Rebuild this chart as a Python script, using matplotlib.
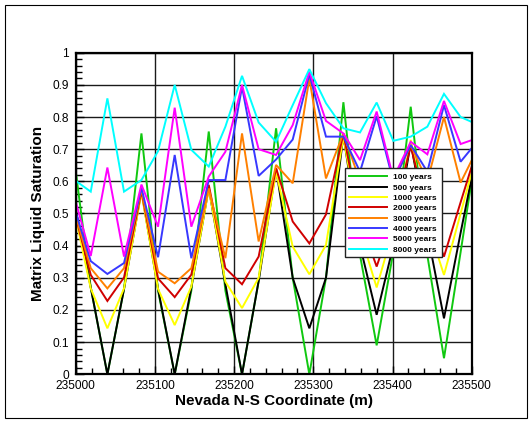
import matplotlib
matplotlib.use("Agg")
import matplotlib.pyplot as plt
from matplotlib.ticker import MultipleLocator
from matplotlib.patches import Rectangle

plt.rcParams['font.family'] = ['Liberation Sans', 'DejaVu Sans']

# Nodal N-S coordinates (m)
x = [234998, 235019, 235040, 235061, 235083, 235104, 235125, 235146, 235168,
     235189, 235210, 235231, 235253, 235274, 235295, 235316, 235338, 235359,
     235380, 235401, 235423, 235444, 235465, 235486, 235508]

labels = ["100 years", "500 years", "1000 years", "2000 years",
          "3000 years", "4000 years", "5000 years", "8000 years"]

s100 = [0.67, 0.27, 0.0, 0.265, 0.749, 0.26, 0.0, 0.26, 0.755, 0.26, 0.0, 0.29, 0.765,
        0.30, 0.0, 0.30, 0.846, 0.37, 0.09, 0.38, 0.832, 0.37, 0.05, 0.38, 0.73]
s500 = [0.54, 0.27, 0.0, 0.265, 0.57, 0.265, 0.0, 0.27, 0.58, 0.28, 0.0, 0.29, 0.64,
        0.30, 0.143, 0.30, 0.744, 0.40, 0.185, 0.40, 0.72, 0.44, 0.174, 0.44, 0.71]
s1000 = [0.51, 0.267, 0.143, 0.267, 0.565, 0.265, 0.153, 0.273, 0.578, 0.288, 0.206, 0.30, 0.63,
         0.397, 0.311, 0.402, 0.739, 0.44, 0.27, 0.45, 0.729, 0.47, 0.309, 0.50, 0.70]
s2000 = [0.51, 0.309, 0.228, 0.301, 0.57, 0.298, 0.24, 0.31, 0.589, 0.33, 0.28, 0.366, 0.641,
         0.475, 0.407, 0.497, 0.749, 0.48, 0.335, 0.49, 0.71, 0.50, 0.366, 0.535, 0.71]
s3000 = [0.51, 0.33, 0.267, 0.33, 0.575, 0.319, 0.283, 0.33, 0.578, 0.361, 0.749, 0.413, 0.651,
         0.594, 0.92, 0.609, 0.749, 0.60, 0.55, 0.60, 0.713, 0.60, 0.80, 0.596, 0.705]
s4000 = [0.52, 0.352, 0.312, 0.346, 0.58, 0.364, 0.682, 0.361, 0.604, 0.604, 0.894, 0.617, 0.668,
         0.73, 0.933, 0.739, 0.739, 0.63, 0.802, 0.60, 0.713, 0.63, 0.837, 0.661, 0.727]
s5000 = [0.555, 0.368, 0.643, 0.366, 0.59, 0.459, 0.829, 0.459, 0.615, 0.692, 0.90, 0.70, 0.682,
         0.775, 0.941, 0.788, 0.749, 0.666, 0.817, 0.61, 0.723, 0.684, 0.85, 0.716, 0.735]
s8000 = [0.605, 0.568, 0.858, 0.568, 0.604, 0.694, 0.90, 0.698, 0.646, 0.77, 0.928, 0.783, 0.723,
         0.837, 0.949, 0.843, 0.765, 0.752, 0.845, 0.726, 0.739, 0.77, 0.872, 0.80, 0.776]

series = [s100, s500, s1000, s2000, s3000, s4000, s5000, s8000]
colors = ['#10c810', '#000000', '#ffff00', '#d00000', '#ff8000', '#3838ff', '#ff00ff', '#00ffff']

xticks = [235000, 235100, 235200, 235300, 235400, 235500]
yticks = [0, 0.1, 0.2, 0.3, 0.4, 0.5, 0.6, 0.7, 0.8, 0.9, 1.0]
yticklabels = ["0", "0.1", "0.2", "0.3", "0.4", "0.5", "0.6", "0.7", "0.8", "0.9", "1"]

W, H = 532, 423
fig = plt.figure(figsize=(W / 100, H / 100), dpi=100)
ax = fig.add_axes([75.7 / W, 1 - 374.3 / H, (471.7 - 75.7) / W, (374.3 - 52.7) / H])

for s, c, lab in zip(series, colors, labels):
    ax.plot(x, s, color=c, lw=1.4, label=lab, solid_joinstyle='miter', zorder=3)

ax.set_xlim(235000, 235500)
ax.set_ylim(0, 1)
ax.set_xticks(xticks)
ax.set_xticklabels([str(t) for t in xticks])
ax.set_yticks(yticks)
ax.set_yticklabels(yticklabels)
ax.xaxis.set_minor_locator(MultipleLocator(20))
ax.yaxis.set_minor_locator(MultipleLocator(0.02))
ax.grid(True, which='major', color='#1a1a1a', lw=1.0, zorder=1)
ax.tick_params(which='both', direction='in', top=False, right=False,
               labelsize=8.6, colors='black')
ax.tick_params(axis='x', which='major', pad=4.4)
ax.tick_params(axis='y', which='major', pad=5)
ax.tick_params(which='major', length=6, width=1)
ax.tick_params(which='minor', length=4, width=1)
for sp in ax.spines.values():
    sp.set_linewidth(1.6)
    sp.set_zorder(5)

ax.set_xlabel("Nevada N-S Coordinate (m)", fontsize=11, fontweight='bold', labelpad=1)
ax.set_ylabel("Matrix Liquid Saturation", fontsize=11, fontweight='bold', labelpad=5)

# legend frame drawn separately (pixel box 345-442 x 168-257)
def ax_x(px):
    return (px - 75.7) / (471.7 - 75.7)

def ax_y(py):
    return (374.3 - py) / (374.3 - 52.7)

box = Rectangle((ax_x(345.3), ax_y(257.3)), ax_x(442.3) - ax_x(345.3), ax_y(167.7) - ax_y(257.3),
                transform=ax.transAxes, facecolor='white', edgecolor='#222222', lw=1.0, zorder=9)
ax.add_patch(box)

leg = ax.legend(loc='upper left', bbox_to_anchor=(ax_x(348.5), ax_y(173.5)), borderaxespad=0,
                prop={'size': 6, 'weight': 'bold'}, handlelength=4.6, handletextpad=0.7,
                labelspacing=0.3, borderpad=0, frameon=False)
leg.set_zorder(10)

fig.patches.append(Rectangle((5 / W, 5 / H), (W - 10) / W, (H - 10) / H, transform=fig.transFigure,
                             fill=False, edgecolor='black', lw=0.8))

fig.savefig("out.png", dpi=100)
